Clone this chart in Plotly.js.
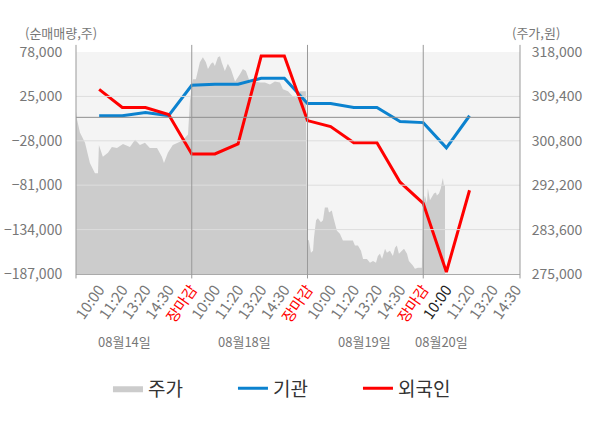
<!DOCTYPE html>
<html>
<head>
<meta charset="utf-8">
<script src="https://cdn.plot.ly/plotly-3.0.1.min.js"></script>
<style>
  html, body { margin: 0; padding: 0; background: #fff; }
  #chart { width: 600px; height: 428px; }
</style>
</head>
<body>
<div id="chart"></div>
<script>
// Tick labels along the bottom (4 trading days)
const xLabels = [
    '10:00', '11:20', '13:20', '14:30', '장마감',
    '10:00', '11:20', '13:20', '14:30', '장마감',
    '10:00', '11:20', '13:20', '14:30', '장마감',
    '10:00', '11:20', '13:20', '14:30'
];
const dateLabels = ['08월14일', '08월18일', '08월19일', '08월20일'];
const closeIdx = [4, 9, 14];   // 장마감 slots
const nowIdx = 15;             // current slot (darker label)

// Net buying (주), one value per slot
const instNet = [1900, 1900, 5700, 2100, 38300, 39500, 39500, 46700, 46700,
    16600, 16600, 11800, 11800, -5100, -6300, -36400, 1900];
const foreignNet = [33400, 11800, 11800, 3300, -43700, -43700, -31600, 73200, 73200,
    -3900, -11100, -30400, -30400, -77400, -102700, -184600, -87000];

// Intraday price (원), position along the slot axis
const priceX = [
    -1.00, -0.96, -0.83, -0.61, -0.40, -0.18, -0.05, -0.01, 0.16, 0.38, 0.55, 0.77,
    1.03, 1.33, 1.55, 1.76, 1.98, 2.19, 2.50, 2.71, 2.80, 2.97, 3.18, 3.49, 3.71, 3.84,
    3.92, 4.05, 4.18, 4.35, 4.48, 4.61, 4.70, 4.83, 4.92, 5.00, 5.13, 5.22, 5.30, 5.43,
    5.56, 5.69, 5.87, 6.00, 6.08, 6.21, 6.34, 6.52, 6.73, 6.95, 7.16, 7.38, 7.59, 7.81,
    7.94, 8.16, 8.37, 8.50, 8.67, 8.93,
    8.98, 9.06, 9.15, 9.24, 9.28, 9.37, 9.45, 9.58, 9.67, 9.75, 9.88, 9.93, 10.05, 10.10,
    10.18, 10.27, 10.40, 10.53, 10.75, 10.96, 11.05, 11.18, 11.31, 11.40, 11.57, 11.70,
    11.83, 11.96, 12.04, 12.13, 12.22, 12.35, 12.43, 12.56, 12.69, 12.78, 12.86, 12.95,
    13.08, 13.17, 13.30, 13.38, 13.56, 13.64, 13.77, 13.94,
    13.99, 14.07, 14.16, 14.20, 14.29, 14.37, 14.46, 14.55, 14.59, 14.68, 14.76, 14.81,
    14.85, 14.89, 14.94
];
const priceY = [
    306500, 305000, 302400, 300400, 296500, 294500, 294500, 300000, 297700, 298500, 299600, 299400,
    300200, 299600, 301000, 300000, 300400, 299400, 299400, 297700, 296500, 298500, 300000, 300600, 301400, 302000,
    308400, 312700, 312700, 316000, 317000, 316000, 314700, 315700, 316000, 315300, 317000, 317200, 315900, 314300,
    315700, 314700, 312300, 313100, 313700, 314700, 314300, 312100, 312300, 312100, 312100, 311700, 312300, 312100,
    310800, 310400, 309400, 309200, 310400, 310400,
    281800, 281500, 279100, 279500, 282000, 285400, 285800, 285000, 285400, 287900, 287900, 286900, 287300, 286300,
    284800, 283400, 282800, 281500, 281500, 281500, 280500, 280500, 279500, 277900, 277900, 277200,
    277500, 277200, 278500, 278900, 277900, 279900, 279100, 279500, 278500, 280100, 280500, 278900,
    279500, 279900, 278900, 277500, 276600, 276000, 276200, 276200,
    287900, 290200, 288700, 291600, 289300, 289900, 290600, 290800, 290200, 290600, 291600, 292800,
    293600, 292200, 292200
];

const netTicks = [78000, 25000, -28000, -81000, -134000, -187000];
const priceTicks = [318000, 309400, 300800, 292200, 283600, 275000];

const FONT = '"Noto Sans CJK KR", "Noto Sans", sans-serif';
const slots = instNet.map((_, i) => i);

// colour the 장마감 labels red and the current slot darker
const tickText = xLabels.map((t, i) => {
    if (closeIdx.includes(i)) return '<span style="color:#ff0000">' + t + '</span>';
    if (i === nowIdx) return '<span style="color:#222">' + t + '</span>';
    return t;
});

const traces = [
    {
        name: '주가', x: priceX, y: priceY, yaxis: 'y',
        type: 'scatter', mode: 'lines', fill: 'tozeroy',
        line: { width: 0, color: '#cccccc' }, fillcolor: '#cccccc',
        hoverinfo: 'skip'
    },
    {
        name: '기관', x: slots, y: instNet, yaxis: 'y2',
        type: 'scatter', mode: 'lines', line: { color: '#0b82cf', width: 3 }
    },
    {
        name: '외국인', x: slots, y: foreignNet, yaxis: 'y2',
        type: 'scatter', mode: 'lines', line: { color: '#ff0000', width: 3 }
    }
];

// grid + zero line sit above the price area, as in the source chart
const shapes = [];
netTicks.slice(1, 5).forEach(v => shapes.push({
    type: 'line', layer: 'above', xref: 'paper', x0: 0, x1: 1, yref: 'y2', y0: v, y1: v,
    line: { color: '#dddddd', width: 1 }
}));
shapes.push({
    type: 'line', layer: 'above', xref: 'paper', x0: 0, x1: 1, yref: 'y2', y0: 0, y1: 0,
    line: { color: '#8f8f8f', width: 1 }
});
closeIdx.forEach(i => shapes.push({
    type: 'line', layer: 'above', xref: 'x', x0: i, x1: i, yref: 'paper', y0: -0.02, y1: 1.032,
    line: { color: '#999999', width: 1 }
}));
[0, 1].forEach(p => shapes.push({
    type: 'line', layer: 'above', xref: 'paper', x0: p, x1: p, yref: 'paper', y0: -0.02, y1: 1.032,
    line: { color: '#999999', width: 1 }
}));

const datePos = [1.1, 6.3, 11.48, 14.77];
const annotations = dateLabels.map((d, i) => ({
    text: d, xref: 'x', x: datePos[i], yref: 'paper', y: -0.356,
    showarrow: false, font: { family: FONT, size: 13, color: '#777' }
}));
annotations.push(
    { text: '(순매매량,주)', xref: 'paper', x: -0.034, xanchor: 'center',
      yref: 'paper', y: 1.088, yanchor: 'middle', showarrow: false,
      font: { family: FONT, size: 13, color: '#777' } },
    { text: '(주가,원)', xref: 'paper', x: 1.036, xanchor: 'center',
      yref: 'paper', y: 1.088, yanchor: 'middle', showarrow: false,
      font: { family: FONT, size: 13, color: '#777' } }
);

const layout = {
    width: 600, height: 428,
    margin: { l: 76, r: 80, t: 52, b: 154 },
    paper_bgcolor: '#ffffff',
    plot_bgcolor: '#f4f4f4',
    font: { family: FONT, color: '#777' },
    showlegend: true,
    legend: {
        orientation: 'h', x: 0.072, xanchor: 'left', y: -0.43, yanchor: 'top',
        entrywidth: 80, font: { family: FONT, size: 19, color: '#333' }
    },
    xaxis: {
        range: [-1.0, 18.18], tickmode: 'array', tickvals: xLabels.map((_, i) => i), ticktext: tickText,
        tickangle: -55, tickfont: { family: FONT, size: 15, color: '#777' },
        showgrid: false, zeroline: false, showline: true, linecolor: '#aaaaaa',
        ticks: '', fixedrange: true
    },
    yaxis: {
        side: 'right', range: [275000, 318000], tickmode: 'array', tickvals: priceTicks,
        tickformat: ',d', tickfont: { family: FONT, size: 14, color: '#777' },
        showgrid: false, zeroline: false, ticks: 'outside', ticklen: 8, tickcolor: 'rgba(0,0,0,0)'
    },
    yaxis2: {
        side: 'left', overlaying: 'y', range: [-187000, 78000], tickmode: 'array', tickvals: netTicks,
        tickformat: ',d', tickfont: { family: FONT, size: 14, color: '#777' },
        showgrid: false, zeroline: false, ticks: 'outside', ticklen: 10, tickcolor: 'rgba(0,0,0,0)'
    },
    shapes: shapes,
    annotations: annotations
};

Plotly.newPlot('chart', traces, layout, { displayModeBar: false, staticPlot: true });
</script>
</body>
</html>
